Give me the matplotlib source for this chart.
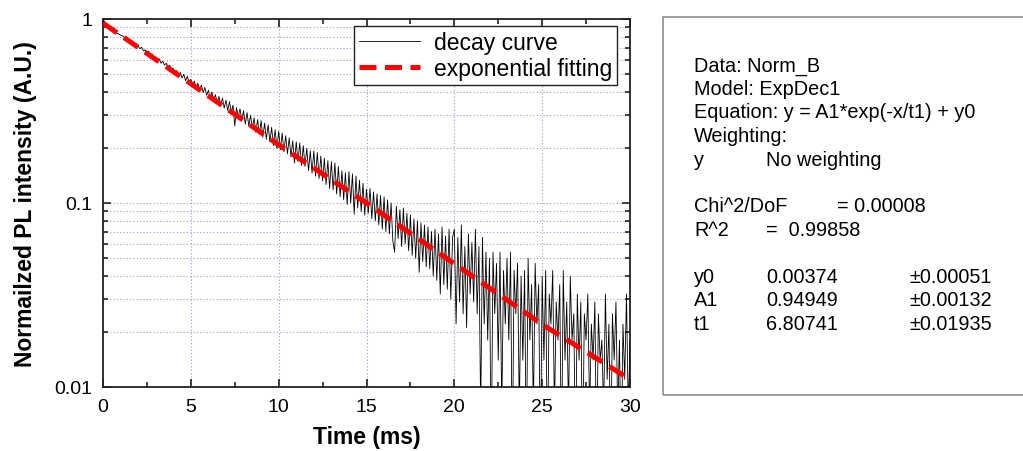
import matplotlib
matplotlib.use("Agg")
import matplotlib.pyplot as plt
from matplotlib.patches import Rectangle
from matplotlib.ticker import FixedLocator, FixedFormatter, NullFormatter

plt.rcParams['font.family'] = ['Liberation Sans', 'DejaVu Sans']

# ---------------- data ----------------
time_step = 0.1
decay_values = [
    1.000, 0.962, 0.941, 0.918, 0.902, 0.887, 0.868, 0.858, 0.838, 0.829,
    0.818, 0.812, 0.795, 0.790, 0.770, 0.768, 0.748, 0.745, 0.724, 0.722,
    0.712, 0.690, 0.702, 0.672, 0.680, 0.655, 0.668, 0.640, 0.645, 0.618,
    0.620, 0.592, 0.608, 0.575, 0.590, 0.562, 0.575, 0.545, 0.560, 0.530,
    0.540, 0.508, 0.525, 0.490, 0.512, 0.478, 0.500, 0.462, 0.488, 0.452,
    0.470, 0.435, 0.460, 0.420, 0.448, 0.408, 0.438, 0.398, 0.425, 0.385,
    0.410, 0.370, 0.402, 0.362, 0.388, 0.350, 0.380, 0.338, 0.372, 0.328,
    0.362, 0.318, 0.355, 0.312, 0.340, 0.262, 0.330, 0.295, 0.325, 0.282,
    0.318, 0.268, 0.310, 0.262, 0.300, 0.255, 0.290, 0.242, 0.284, 0.236,
    0.280, 0.228, 0.272, 0.222, 0.266, 0.215, 0.258, 0.205, 0.250, 0.198,
    0.245, 0.195, 0.240, 0.190, 0.232, 0.185, 0.226, 0.178, 0.218, 0.165,
    0.215, 0.168, 0.212, 0.160, 0.205, 0.158, 0.198, 0.150, 0.192, 0.145,
    0.192, 0.140, 0.188, 0.136, 0.180, 0.132, 0.175, 0.126, 0.170, 0.120,
    0.168, 0.118, 0.165, 0.112, 0.158, 0.108, 0.150, 0.104, 0.146, 0.098,
    0.148, 0.100, 0.144, 0.087, 0.140, 0.094, 0.133, 0.090, 0.128, 0.086,
    0.119, 0.088, 0.120, 0.082, 0.115, 0.080, 0.112, 0.076, 0.110, 0.072,
    0.108, 0.070, 0.104, 0.068, 0.100, 0.062, 0.054, 0.096, 0.064, 0.092,
    0.058, 0.094, 0.060, 0.088, 0.055, 0.086, 0.052, 0.082, 0.050, 0.080,
    0.042, 0.078, 0.048, 0.076, 0.045, 0.074, 0.044, 0.070, 0.040, 0.072,
    0.038, 0.068, 0.032, 0.074, 0.036, 0.066, 0.034, 0.072, 0.030, 0.065,
    0.072, 0.022, 0.065, 0.029, 0.076, 0.025, 0.058, 0.021, 0.068, 0.032,
    0.061, 0.029, 0.072, 0.025, 0.058, 0.0072, 0.065, 0.022, 0.054, 0.018,
    0.050, 0.0036, 0.054, 0.025, 0.047, 0.014, 0.054, 0.0072, 0.043, 0.022,
    0.050, 0.018, 0.054, 0.0036, 0.043, 0.025, 0.047, 0.0072, 0.040, 0.014,
    0.043, 0.0036, 0.050, 0.018, 0.036, 0.0072, 0.047, 0.022, 0.036, 0.0036,
    0.040, 0.014, 0.043, 0.0036, 0.032, 0.022, 0.043, 0.0072, 0.029, 0.018,
    0.036, 0.0036, 0.043, 0.014, 0.029, 0.0072, 0.040, 0.018, 0.025, 0.0036,
    0.032, 0.014, 0.029, 0.0036, 0.025, 0.018, 0.032, 0.0072, 0.022, 0.014,
    0.029, 0.0036, 0.025, 0.014, 0.018, 0.0072, 0.032, 0.011, 0.022, 0.0036,
    0.025, 0.014, 0.029, 0.0072, 0.018, 0.0036, 0.022, 0.011, 0.032, 0.0072,
    0.018,
]
decay_times = [round(i * time_step, 1) for i in range(len(decay_values))]

fit_times = [0, 5, 10, 15, 20, 25, 30]
fit_values = [0.950, 0.445, 0.207, 0.100, 0.0468, 0.0219, 0.0110]

xtick_values = [0, 5, 10, 15, 20, 25, 30]
xtick_labels = ['0', '5', '10', '15', '20', '25', '30']
ytick_values = [0.01, 0.1, 1]
ytick_labels = ['0.01', '0.1', '1']

legend_labels = ['decay curve', 'exponential fitting']
x_label = 'Time (ms)'
y_label = 'Normailzed PL intensity (A.U.)'

report_lines = [
    (0.0, 'Data: Norm_B'),
    (1.0, 'Model: ExpDec1'),
    (2.0, 'Equation: y = A1*exp(-x/t1) + y0'),
    (3.0, 'Weighting:'),
    (4.0, 'y'),
    (6.0, 'Chi^2/DoF'),
    (7.0, 'R^2'),
    (9.0, 'y0'),
    (10.0, 'A1'),
    (11.0, 't1'),
]
report_col2 = [(4.0, 'No weighting'), (9.0, '0.00374'), (10.0, '0.94949'), (11.0, '6.80741'),
               (7.0, '=  0.99858')]
report_col3 = [(6.0, '= 0.00008')]
report_col4 = [(9.0, '\u00b10.00051'), (10.0, '\u00b10.00132'), (11.0, '\u00b10.01935')]

# ---------------- figure ----------------
W, H = 1023, 452
fig = plt.figure(figsize=(W / 100, H / 100), dpi=100)
ax = fig.add_axes([103 / W, 1 - 388 / H, (630 - 103) / W, (388 - 20) / H])

ax.set_yscale('log')
ax.plot(decay_times, decay_values, color='black', lw=0.6, label=legend_labels[0], zorder=3)
ax.plot(fit_times, fit_values, color='#ff0000', lw=3.6, dashes=(3.4, 1.7),
        label=legend_labels[1], zorder=4)

ax.set_xlim(0, 30)
ax.set_ylim(0.01, 1)

ax.xaxis.set_major_locator(FixedLocator(xtick_values))
ax.xaxis.set_major_formatter(FixedFormatter(xtick_labels))
ax.xaxis.set_minor_locator(FixedLocator([2.5, 7.5, 12.5, 17.5, 22.5, 27.5]))
ax.yaxis.set_major_locator(FixedLocator(ytick_values))
ax.yaxis.set_major_formatter(FixedFormatter(ytick_labels))
minor_y = [m * d for d in (0.01, 0.1) for m in range(2, 10)]
ax.yaxis.set_minor_locator(FixedLocator(minor_y))
ax.yaxis.set_minor_formatter(NullFormatter())

ax.tick_params(which='both', direction='in', top=True, right=True, width=1.2, colors='#222222',
               labelcolor='black')
ax.tick_params(which='major', length=6, labelsize=14, pad=8)
ax.tick_params(which='minor', length=3.5)
for s in ax.spines.values():
    s.set_linewidth(1.3)
    s.set_color('#222222')

grid_kw = dict(color='#9a9ac8', lw=0.8, ls=(0, (1, 2)), zorder=1)
for xv in xtick_values[1:-1]:
    ax.axvline(xv, **grid_kw)
for yv in minor_y + [0.1]:
    ax.axhline(yv, **grid_kw)

ax.set_xlabel(x_label, fontsize=16.5, fontweight='bold', labelpad=7)
ax.set_ylabel(y_label, fontsize=16.5, fontweight='bold', labelpad=12)

leg = ax.legend(loc='upper right', bbox_to_anchor=(617 / W, 1 - 27 / H),
                bbox_transform=fig.transFigure, borderaxespad=0, fontsize=16.5,
                handlelength=2.7, handletextpad=0.6, fancybox=False,
                framealpha=1, edgecolor='#222222', borderpad=0.2, labelspacing=0.15)
leg.get_frame().set_linewidth(1.0)

# ---------------- report box ----------------
fig.patches.append(Rectangle((663 / W, 1 - 396 / H), (1040 - 663) / W, (396 - 18) / H,
                             transform=fig.transFigure, fill=False, edgecolor='#8c8c8c', lw=1.2))

y0_px, dy_px = 66, 23.5
fs = 14.3
def put(x_px, row, s):
    fig.text(x_px / W, 1 - (y0_px + row * dy_px) / H, s, fontsize=fs, ha='left', va='center')

for row, s in report_lines:
    put(694, row, s)
for row, s in report_col2:
    put(766, row, s)
for row, s in report_col3:
    put(837, row, s)
for row, s in report_col4:
    put(909, row, s)

fig.savefig('out.png', dpi=100)
